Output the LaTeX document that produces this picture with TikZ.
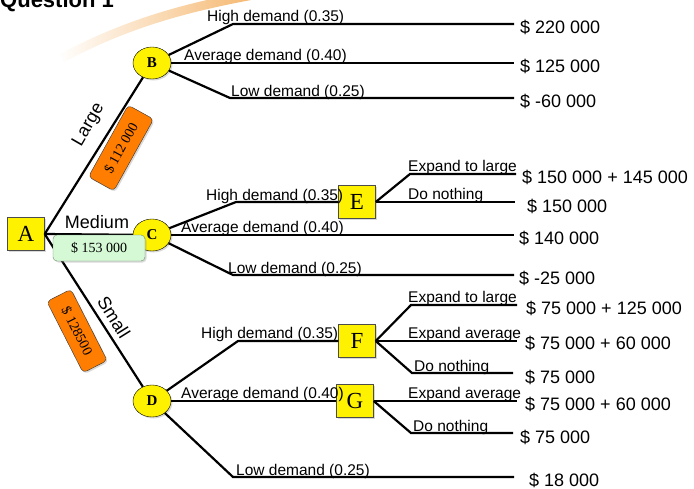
\documentclass[tikz,border=0pt]{standalone}
\usepackage{fontspec}
\setmainfont{Liberation Sans}
\newfontfamily\letterfont{Liberation Serif}
\usetikzlibrary{shapes.geometric,shadows,fadings}

\definecolor{swoosh}{RGB}{244,176,96}
\definecolor{costorange}{RGB}{255,125,0}
\definecolor{costgreen}{RGB}{213,248,213}
\definecolor{greenrim}{RGB}{110,140,110}

\tikzset{
  softshadow/.style={drop shadow={shadow xshift=1.5pt,shadow yshift=-1.5pt,opacity=0.3}},
  chance/.style={draw,fill=yellow,ellipse,minimum width=38pt,minimum height=32pt,inner sep=0pt,
    font=\letterfont\bfseries\fontsize{15}{15}\selectfont,softshadow},
  decision/.style={draw=black!70,fill=yellow,minimum width=37pt,minimum height=33pt,inner sep=0pt,
    font=\letterfont\fontsize{23}{23}\selectfont,softshadow},
  branch/.style={line width=2.2pt},
  choice/.style={anchor=base west,inner sep=0pt,font=\fontsize{15.5}{18}\selectfont},
  payoff/.style={anchor=west,inner sep=0pt,font=\fontsize{18}{20}\selectfont},
  option/.style={inner sep=0pt,font=\fontsize{18}{20}\selectfont},
  cost/.style={draw=black!80,fill=costorange,rounded corners=4pt,minimum width=82pt,minimum height=29pt,
    inner sep=0pt,font=\letterfont\fontsize{14}{14}\selectfont,softshadow}
}

\begin{document}
\begin{tikzpicture}[x=1pt,y=-1pt]
 \useasboundingbox (0,0) rectangle (694,488);
 \draw[line width=9pt,swoosh,path fading=west] (62,58) .. controls (130,22) and (190,6) .. (270,-8);
 \node[anchor=base west,inner sep=0pt,font=\bfseries\fontsize{22}{22}\selectfont] (title) at (0,7) {Question 1};

 \node[decision] (A) at (26,234) {A};
 \node[chance] (B) at (152,63) {B};
 \node[chance] (C) at (152,235) {C};
 \node[chance] (D) at (152,401) {D};
 \node[decision] (E) at (357,202) {E};
 \node[decision] (F) at (357,341) {F};
 \node[decision] (G) at (355,401) {G};

 \draw[branch] (A.east) -- (B);
 \draw[branch] (A.east) -- (C);
 \draw[branch] (A.east) -- (D);

 \coordinate (bH) at (233,24);  \coordinate (bHe) at (514,24);
 \coordinate (bAe) at (514,63);
 \coordinate (bL) at (230,98);  \coordinate (bLe) at (514,98);
 \coordinate (cH) at (236,202);
 \coordinate (cAe) at (514,235);
 \coordinate (cL) at (233,275); \coordinate (cLe) at (514,275);
 \coordinate (dH) at (238,341);
 \coordinate (dL) at (233,477); \coordinate (dLe) at (514,477);
 \coordinate (eL) at (410,174); \coordinate (eLe) at (516,174);
 \coordinate (eNe) at (515,202);
 \coordinate (fL) at (411,305); \coordinate (fLe) at (517,305);
 \coordinate (fAe) at (517,341);
 \coordinate (fN) at (412,373); \coordinate (fNe) at (513,373);
 \coordinate (gAe) at (517,401);
 \coordinate (gN) at (411,433); \coordinate (gNe) at (513,433);

 \draw[branch] (B) -- (bH) -- (bHe);
 \draw[branch] (B) -- (bAe);
 \draw[branch] (B) -- (bL) -- (bLe);
 \draw[branch] (C) -- (cH) -- (E.west);
 \draw[branch] (C) -- (cAe);
 \draw[branch] (C) -- (cL) -- (cLe);
 \draw[branch] (D) -- (dH) -- (F.west);
 \draw[branch] (D) -- (G.west);
 \draw[branch] (D) -- (dL) -- (dLe);
 \draw[branch] (E.east) -- (eL) -- (eLe);
 \draw[branch] (E.east) -- (eNe);
 \draw[branch] (F.east) -- (fL) -- (fLe);
 \draw[branch] (F.east) -- (fAe);
 \draw[branch] (F.east) -- (fN) -- (fNe);
 \draw[branch] (G.east) -- (gAe);
 \draw[branch] (G.east) -- (gN) -- (gNe);

 \node[choice] (tBH) at (207,21.5) {High demand (0.35)};
 \node[choice] (tBA) at (184,60.5) {Average demand (0.40)};
 \node[choice] (tBL) at (231,96) {Low demand (0.25)};
 \node[choice] (tCH) at (206,200.5) {High demand (0.35)};
 \node[choice] (tCA) at (181,232.5) {Average demand (0.40)};
 \node[choice] (tCL) at (228,273) {Low demand (0.25)};
 \node[choice] (tDH) at (201,338.5) {High demand (0.35)};
 \node[choice] (tDA) at (181,398.5) {Average demand (0.40)};
 \node[choice] (tDL) at (236,475) {Low demand (0.25)};
 \node[choice] (tEL) at (408,171.5) {Expand to large};
 \node[choice] (tEN) at (408,199.5) {Do nothing};
 \node[choice] (tFL) at (408,302.5) {Expand to large};
 \node[choice] (tFA) at (408,338.5) {Expand average};
 \node[choice] (tFN) at (414,371) {Do nothing};
 \node[choice] (tGA) at (408,398.5) {Expand average};
 \node[choice] (tGN) at (413,431) {Do nothing};

 \node[payoff] (vBH) at (520,27) {\$ 220 000};
 \node[payoff] (vBA) at (520,66) {\$ 125 000};
 \node[payoff] (vBL) at (520,101) {\$ -60 000};
 \node[payoff] (vEL) at (522,177) {\$ 150 000 + 145 000};
 \node[payoff] (vEN) at (527,206) {\$ 150 000};
 \node[payoff] (vCA) at (519,238) {\$ 140 000};
 \node[payoff] (vCL) at (519,278) {\$ -25 000};
 \node[payoff] (vFL) at (526,308) {\$ 75 000 + 125 000};
 \node[payoff] (vFA) at (525,343) {\$ 75 000 + 60 000};
 \node[payoff] (vFN) at (525,377) {\$ 75 000};
 \node[payoff] (vGA) at (525,404) {\$ 75 000 + 60 000};
 \node[payoff] (vGN) at (520,437) {\$ 75 000};
 \node[payoff] (vDL) at (529,480) {\$ 18 000};

 \node[option,rotate=60] (large) at (89,125) {Large};
 \node[option] (medium) at (97,222) {Medium};
 \node[option,rotate=-58] (small) at (114,317) {Small};
 \node[cost,rotate=61] (cLarge) at (121,148) {\$ 112 000};
 \node[cost,fill=costgreen,draw=greenrim,minimum width=92pt,minimum height=26pt] (cMedium) at (99,248) {\$ 153 000};
 \node[cost,rotate=-63,minimum width=80pt,minimum height=27pt] (cSmall) at (77,331) {\$ 128500};
\end{tikzpicture}
\end{document}
